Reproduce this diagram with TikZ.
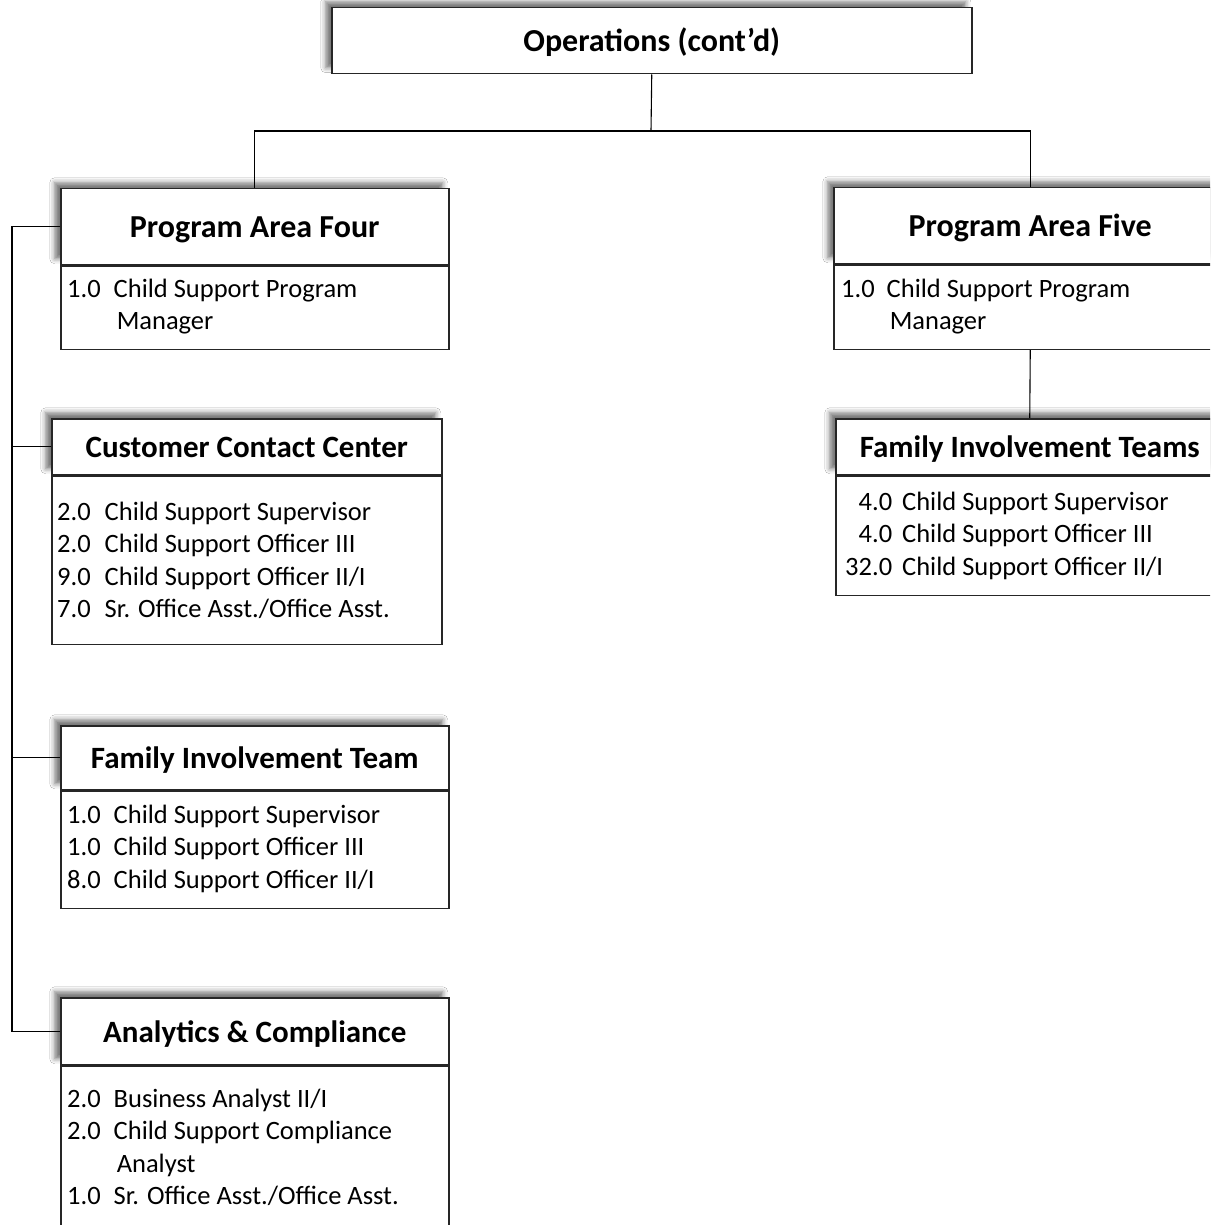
\documentclass[tikz,border=0pt]{standalone}
\usepackage{fontspec}
\setmainfont{Carlito}
\usetikzlibrary{shadows.blur}

\tikzset{
  box/.style={draw=black!85, line width=1.5pt, fill=white, inner sep=0pt, anchor=north west},
  hdr/.style={box, font=\fontsize{32}{38}\selectfont\bfseries, text height=22pt, text depth=0pt,
    blur shadow={shadow xshift=-6pt, shadow yshift=6pt, shadow blur radius=5pt, shadow opacity=55}},
  teamhdr/.style={hdr, font=\fontsize{31}{37}\selectfont\bfseries, text height=21.5pt},
  staff/.style={anchor=base west, inner sep=0pt, font=\fontsize{26.5}{32.5}\selectfont},
  link/.style={draw=black, line width=1.1pt},
}

\begin{document}
\begin{tikzpicture}[x=1pt,y=-1pt]
\clip (0,0) rectangle (1210,1225);
\fill[white] (0,0) rectangle (1210,1225);

% top unit
\node[hdr, minimum width=640pt, minimum height=66pt] (ops) at (331,7) {Operations (cont’d)};

% Program Area Four
\node[hdr, minimum width=388pt, minimum height=76pt] (pa4) at (60,188) {Program Area Four};
\node[box, minimum width=388pt, minimum height=83pt] (pa4b) at (pa4.south west) {};
\node[staff] (pa4t) at (67,297) {\begin{tabular}[t]{@{}r@{\hspace{13pt}}l@{}}
1.0 & Child Support Program\\
    & \hspace{3pt}Manager
\end{tabular}};

% Program Area Five
\node[hdr, minimum width=393pt, minimum height=76pt] (pa5) at (833,187) {Program Area Five};
\node[box, minimum width=393pt, minimum height=84pt] (pa5b) at (pa5.south west) {};
\node[staff] (pa5t) at (841,297) {\begin{tabular}[t]{@{}r@{\hspace{12pt}}l@{}}
1.0 & Child Support Program\\
    & \hspace{3pt}Manager
\end{tabular}};

% Family Involvement Teams
\node[teamhdr, minimum width=388pt, minimum height=56pt] (fitr) at (835,418) {Family Involvement Teams};
\node[box, minimum width=388pt, minimum height=119pt] (fitrb) at (fitr.south west) {};
\node[staff] (fitrt) at (845,510) {\begin{tabular}[t]{@{}r@{\hspace{10pt}}l@{}}
4.0 & Child Support Supervisor\\
4.0 & Child Support Officer III\\
32.0 & Child Support Officer II/I
\end{tabular}};

% Customer Contact Center
\node[teamhdr, minimum width=390pt, minimum height=56pt] (ccc) at (51,418) {Customer Contact Center};
\node[box, minimum width=390pt, minimum height=168pt] (cccb) at (ccc.south west) {};
\node[staff] (ccct) at (57,520) {\begin{tabular}[t]{@{}r@{\hspace{14pt}}l@{}}
2.0 & Child Support Supervisor\\
2.0 & Child Support Officer III\\
9.0 & Child Support Officer II/I\\
7.0 & Sr. Office Asst./Office Asst.
\end{tabular}};

% Family Involvement Team
\node[teamhdr, minimum width=388pt, minimum height=64pt] (fitl) at (60,725) {Family Involvement Team};
\node[box, minimum width=388pt, minimum height=117pt] (fitlb) at (fitl.south west) {};
\node[staff] (fitlt) at (67,823) {\begin{tabular}[t]{@{}r@{\hspace{13pt}}l@{}}
1.0 & Child Support Supervisor\\
1.0 & Child Support Officer III\\
8.0 & Child Support Officer II/I
\end{tabular}};

% Analytics & Compliance
\node[teamhdr, minimum width=388pt, minimum height=67pt] (ac) at (60,997) {Analytics \& Compliance};
\node[box, minimum width=388pt, minimum height=190pt] (acb) at (ac.south west) {};
\node[staff] (act) at (67,1107) {\begin{tabular}[t]{@{}r@{\hspace{13pt}}l@{}}
2.0 & Business Analyst II/I\\
2.0 & Child Support Compliance\\
    & \hspace{3pt}Analyst\\
1.0 & Sr. Office Asst./Office Asst.
\end{tabular}};

% connectors
\coordinate (split) at (651,131);
\coordinate (bus) at (12,0);
\draw[link] (ops.south) -- (split);
\draw[link] (pa4.north) |- (split) -| (pa5.north);
\draw[link] (pa5b.south) -- (fitr.north);
\draw[link] (pa4.west) -- (pa4.west -| bus) -- (ac.west -| bus) -- (ac.west);
\draw[link] (ccc.west) -- (ccc.west -| bus);
\draw[link] (fitl.west) -- (fitl.west -| bus);
\end{tikzpicture}
\end{document}
